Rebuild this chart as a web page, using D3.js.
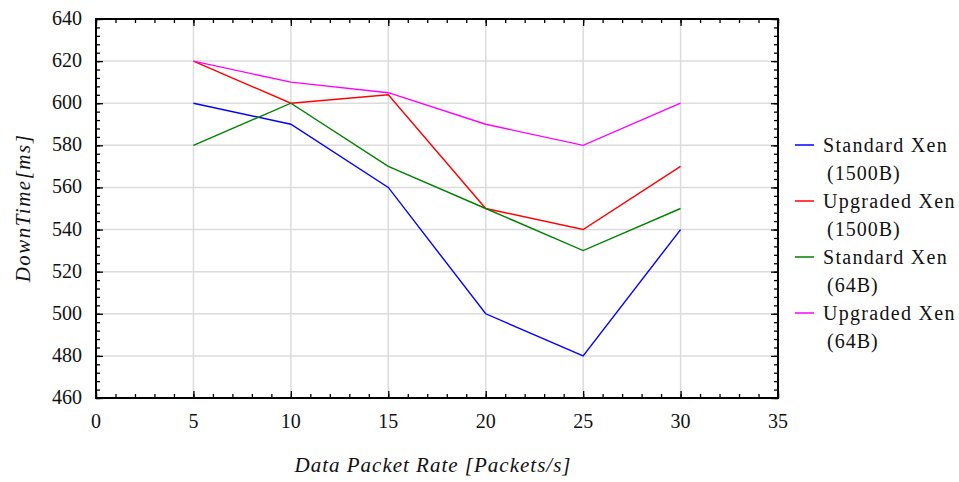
<!DOCTYPE html>
<html>
<head>
<meta charset="utf-8">
<script src="https://cdn.jsdelivr.net/npm/d3@7"></script>
<style>
  body { margin: 0; background: #fff; }
  svg text { font-family: "Liberation Serif", "Times New Roman", serif; fill: #111; }
</style>
</head>
<body>
<svg id="chart"></svg>
<script>
// Packet rates on the x axis
const rates = [5, 10, 15, 20, 25, 30];

// Down time per series [ms]
const stdXen1500 = [600, 590, 560, 500, 480, 540];
const upgXen1500 = [620, 600, 604, 550, 540, 570];
const stdXen64 = [580, 600, 570, 550, 530, 550];
const upgXen64 = [620, 610, 605, 590, 580, 600];

const seriesNames = [["Standard Xen", "(1500B)"], ["Upgraded Xen", "(1500B)"], ["Standard Xen", "(64B)"], ["Upgraded Xen", "(64B)"]];
const seriesColors = ["#0000ff", "#ff0000", "#008000", "#ff00ff"];

const xTicks = [0, 5, 10, 15, 20, 25, 30, 35];
const yTicks = [460, 480, 500, 520, 540, 560, 580, 600, 620, 640];

const W = 959, H = 482;
const margin = { top: 19, right: 181, bottom: 84, left: 96 };
const width = W - margin.left - margin.right;
const height = H - margin.top - margin.bottom;

const svg = d3.select('#chart')
    .attr('width', W)
    .attr('height', H)
  .append('g')
    .attr('transform', `translate(${margin.left},${margin.top})`);

const x = d3.scaleLinear().domain([0, 35]).range([0, width]);
const y = d3.scaleLinear().domain([460, 640]).range([height, 0]);

// Grid lines
svg.append('g')
    .selectAll('line')
    .data(xTicks.slice(1, -1))
    .enter().append('line')
    .attr('x1', d => x(d)).attr('x2', d => x(d))
    .attr('y1', 0).attr('y2', height)
    .attr('stroke', '#dcdcdc').attr('stroke-width', 1.5);

svg.append('g')
    .selectAll('line')
    .data(yTicks.slice(1, -1))
    .enter().append('line')
    .attr('y1', d => y(d)).attr('y2', d => y(d))
    .attr('x1', 0).attr('x2', width)
    .attr('stroke', '#dcdcdc').attr('stroke-width', 1.5);

// Data lines
const series = [stdXen1500, upgXen1500, stdXen64, upgXen64];
const line = d3.line()
    .x((d, i) => x(rates[i]))
    .y(d => y(d));

svg.append('g')
    .selectAll('path')
    .data(series)
    .enter().append('path')
    .attr('d', line)
    .attr('fill', 'none')
    .attr('stroke', (d, i) => seriesColors[i])
    .attr('stroke-width', 1.4);

// Frame with inward ticks on all four sides
const minorX = d3.range(0, 36, 1);
const minorY = d3.range(460, 641, 4);

function tickFrame(axisFn, scale, values, len, transform) {
  const g = svg.append('g').attr('transform', transform)
      .call(axisFn(scale).tickValues(values).tickSize(len).tickFormat(''));
  g.select('.domain').remove();
  g.selectAll('line').attr('stroke', '#000').attr('stroke-width', 1.3);
  return g;
}

tickFrame(d3.axisTop, x, minorX, 4, `translate(0,${height})`);
tickFrame(d3.axisTop, x, xTicks, 7, `translate(0,${height})`);
tickFrame(d3.axisBottom, x, minorX, 4, 'translate(0,0)');
tickFrame(d3.axisBottom, x, xTicks, 7, 'translate(0,0)');
tickFrame(d3.axisRight, y, minorY, 4, 'translate(0,0)');
tickFrame(d3.axisRight, y, yTicks, 7, 'translate(0,0)');
tickFrame(d3.axisLeft, y, minorY, 4, `translate(${width},0)`);
tickFrame(d3.axisLeft, y, yTicks, 7, `translate(${width},0)`);

svg.append('rect')
    .attr('width', width).attr('height', height)
    .attr('fill', 'none').attr('stroke', '#000').attr('stroke-width', 2);

// Tick labels
svg.append('g')
    .selectAll('text')
    .data(xTicks)
    .enter().append('text')
    .attr('x', d => x(d))
    .attr('y', height + 30)
    .attr('text-anchor', 'middle')
    .style('font-size', '20px')
    .text(d => d);

svg.append('g')
    .selectAll('text')
    .data(yTicks)
    .enter().append('text')
    .attr('x', -14)
    .attr('y', d => y(d) + 6)
    .attr('text-anchor', 'end')
    .style('font-size', '20px')
    .text(d => d);

// Axis titles
svg.append('text')
    .attr('x', 433 - margin.left)
    .attr('y', 472 - margin.top)
    .attr('text-anchor', 'middle')
    .style('font-size', '21px')
    .style('font-style', 'italic')
    .style('letter-spacing', '1px')
    .text('Data Packet Rate [Packets/s]');

svg.append('text')
    .attr('transform', `translate(${30 - margin.left},${208 - margin.top}) rotate(-90)`)
    .attr('text-anchor', 'middle')
    .style('font-size', '21px')
    .style('font-style', 'italic')
    .style('letter-spacing', '1.5px')
    .text('DownTime[ms]');

// Legend
const legend = svg.append('g')
    .attr('transform', `translate(${795 - margin.left},${145 - margin.top})`);

const item = legend.selectAll('g')
    .data(seriesNames)
    .enter().append('g')
    .attr('transform', (d, i) => `translate(0,${i * 56})`);

item.append('line')
    .attr('x1', 0).attr('x2', 19)
    .attr('stroke', (d, i) => seriesColors[i])
    .attr('stroke-width', 1.5);

item.append('text')
    .attr('x', 28).attr('y', 7)
    .style('font-size', '20px')
    .style('letter-spacing', '1.3px')
    .text(d => d[0]);

item.append('text')
    .attr('x', 32).attr('y', 35)
    .style('font-size', '20px')
    .style('letter-spacing', '1px')
    .text(d => d[1]);
</script>
</body>
</html>
